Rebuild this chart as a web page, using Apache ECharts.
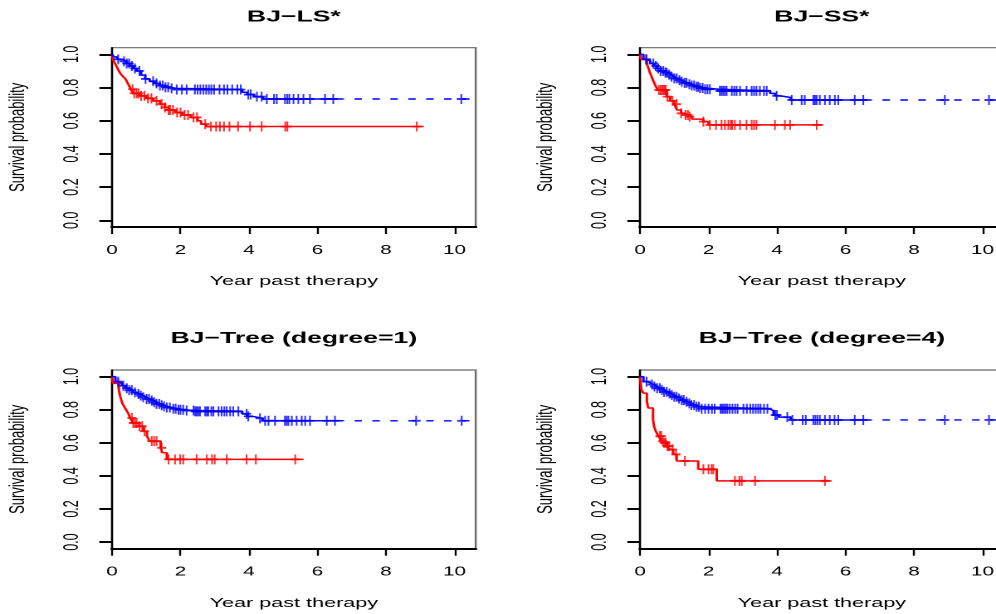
<!DOCTYPE html>
<html><head><meta charset="utf-8">
<script src="https://cdn.jsdelivr.net/npm/echarts@6/dist/echarts.min.js"></script>
<style>
html,body{margin:0;padding:0;overflow:hidden;background:#fff;width:996px;height:614px}
#chart{width:610px;height:614px;transform:scaleX(1.66);transform-origin:0 0;}
</style>
</head><body><div id="chart"></div>
<script>
// ---------- data ----------
const panelTitles = ['BJ\u2212LS*', 'BJ\u2212SS*', 'BJ\u2212Tree (degree=1)', 'BJ\u2212Tree (degree=4)'];
const xTicks = [0, 2, 4, 6, 8, 10];
const yTicks = [0, 0.2, 0.4, 0.6, 0.8, 1.0];
const xName = 'Year past therapy';
const yName = 'Survival probability';

// BJ-LS*
const lsBlueT = [0, 0.05, 0.15, 0.3, 0.42, 0.52, 0.62, 0.72, 0.85, 0.97, 1.1, 1.25, 1.4, 1.55, 1.7, 1.85, 3.8, 3.95, 4.15, 4.4];
const lsBlueS = [1.0, 0.985, 0.97, 0.958, 0.945, 0.93, 0.915, 0.9, 0.875, 0.852, 0.838, 0.825, 0.812, 0.802, 0.795, 0.788, 0.772, 0.758, 0.745, 0.731];
const lsBlueC = [0.18, 0.35, 0.43, 0.5, 0.58, 0.67, 0.8, 0.98, 1.2, 1.3, 1.4, 1.48, 1.56, 1.64, 1.74, 1.89, 2.04, 2.18, 2.42, 2.5, 2.58, 2.67, 2.75, 2.83, 2.9, 2.98, 3.14, 3.27, 3.37, 3.51, 3.66, 3.76, 3.98, 4.05, 4.23, 4.37, 4.52, 4.73, 4.81, 5.05, 5.12, 5.18, 5.3, 5.44, 5.59, 5.78, 6.22, 6.46, 10.2];
const lsRedT = [0, 0.02, 0.05, 0.1, 0.15, 0.2, 0.26, 0.33, 0.4, 0.45, 0.5, 0.55, 0.62, 0.8, 1.0, 1.2, 1.4, 1.55, 1.65, 1.85, 2.05, 2.3, 2.5, 2.6, 2.75];
const lsRedS = [1.0, 0.98, 0.96, 0.94, 0.92, 0.9, 0.88, 0.865, 0.85, 0.83, 0.81, 0.79, 0.765, 0.75, 0.735, 0.72, 0.70, 0.68, 0.665, 0.65, 0.635, 0.62, 0.6, 0.58, 0.565];
const lsRedC = [0.6, 0.65, 0.72, 0.78, 0.85, 0.95, 1.05, 1.15, 1.3, 1.45, 1.55, 1.65, 1.7, 1.78, 1.9, 2.0, 2.12, 2.22, 2.38, 2.48, 2.72, 2.89, 3.04, 3.15, 3.27, 3.43, 3.68, 4.03, 4.37, 5.06, 5.12, 8.9];
const lsRedEnd = 9.1;

// BJ-SS*
const ssBlueT = [0, 0.1, 0.2, 0.3, 0.4, 0.5, 0.6, 0.7, 0.8, 0.9, 1.0, 1.1, 1.2, 1.3, 1.4, 1.5, 1.6, 1.75, 1.9, 2.3, 3.8, 3.95, 4.1, 4.4];
const ssBlueS = [1.0, 0.97, 0.96, 0.945, 0.93, 0.915, 0.9, 0.89, 0.878, 0.866, 0.855, 0.845, 0.836, 0.828, 0.82, 0.812, 0.805, 0.797, 0.79, 0.78, 0.765, 0.75, 0.74, 0.725];
const ssBlueC = [0.19, 0.39, 0.46, 0.53, 0.6, 0.68, 0.74, 0.78, 0.85, 0.92, 1.0, 1.07, 1.15, 1.22, 1.3, 1.36, 1.44, 1.51, 1.58, 1.65, 1.7, 1.75, 1.83, 1.9, 1.97, 2.04, 2.33, 2.38, 2.43, 2.48, 2.53, 2.68, 2.75, 2.82, 2.92, 3.11, 3.26, 3.33, 3.40, 3.50, 3.62, 3.70, 3.99, 4.43, 4.72, 4.81, 5.06, 5.11, 5.16, 5.25, 5.40, 5.54, 5.69, 5.79, 6.27, 6.52, 8.90, 10.19];
const ssRedT = [0, 0.03, 0.2, 0.24, 0.28, 0.32, 0.36, 0.4, 0.44, 0.48, 0.52, 0.78, 0.88, 1.0, 1.08, 1.2, 1.3, 1.42, 1.52, 1.85, 2.0];
const ssRedS = [1.0, 0.97, 0.945, 0.92, 0.895, 0.875, 0.855, 0.835, 0.815, 0.8, 0.785, 0.745, 0.72, 0.70, 0.665, 0.645, 0.635, 0.625, 0.61, 0.595, 0.575];
const ssRedC = [0.17, 0.55, 0.6, 0.64, 0.68, 0.72, 0.75, 0.8, 0.95, 1.07, 1.2, 1.33, 1.4, 1.45, 1.85, 2.04, 2.22, 2.38, 2.48, 2.58, 2.65, 2.69, 2.77, 2.92, 3.11, 3.26, 3.33, 3.40, 3.94, 4.23, 4.38, 5.16];
const ssRedEnd = 5.35;

// BJ-Tree (degree=1)
const t1BlueT = [0, 0.1, 0.2, 0.3, 0.4, 0.5, 0.6, 0.7, 0.8, 0.9, 1.0, 1.1, 1.2, 1.3, 1.4, 1.5, 1.6, 1.75, 1.9, 2.1, 2.4, 3.8, 3.95, 4.1, 4.4];
const t1BlueS = [1.0, 0.97, 0.96, 0.945, 0.93, 0.918, 0.905, 0.895, 0.885, 0.875, 0.865, 0.855, 0.845, 0.835, 0.827, 0.82, 0.813, 0.806, 0.8, 0.795, 0.79, 0.775, 0.76, 0.748, 0.733];
const t1BlueC = [0.18, 0.33, 0.43, 0.5, 0.58, 0.67, 0.77, 0.84, 0.91, 1.01, 1.08, 1.16, 1.23, 1.3, 1.38, 1.45, 1.52, 1.6, 1.69, 1.79, 1.86, 1.94, 2.0, 2.08, 2.18, 2.38, 2.43, 2.47, 2.52, 2.57, 2.72, 2.77, 2.81, 2.9, 2.96, 3.11, 3.2, 3.28, 3.35, 3.45, 3.54, 3.69, 3.93, 3.98, 4.32, 4.47, 4.57, 4.76, 5.05, 5.1, 5.15, 5.25, 5.39, 5.54, 5.64, 5.78, 6.27, 6.51, 8.88, 10.21];
const t1RedT = [0, 0.03, 0.2, 0.24, 0.3, 0.38, 0.47, 0.53, 0.62, 0.8, 0.92, 1.02, 1.1, 1.42, 1.47, 1.6];
const t1RedS = [1.0, 0.96, 0.92, 0.88, 0.84, 0.81, 0.78, 0.75, 0.72, 0.70, 0.67, 0.64, 0.61, 0.57, 0.54, 0.50];
const t1RedC = [0.18, 0.58, 0.62, 0.67, 0.72, 0.8, 0.88, 0.95, 1.16, 1.23, 1.3, 1.45, 1.65, 1.84, 1.99, 2.08, 2.47, 2.77, 2.92, 3.0, 3.35, 3.93, 4.2, 5.35];
const t1RedEnd = 5.59;

// BJ-Tree (degree=4)
const t4BlueT = [0, 0.1, 0.2, 0.3, 0.4, 0.5, 0.6, 0.7, 0.8, 0.9, 1.0, 1.1, 1.2, 1.3, 1.4, 1.5, 1.6, 1.75, 3.75, 3.9, 4.05, 4.4];
const t4BlueS = [1.0, 0.97, 0.962, 0.952, 0.94, 0.93, 0.92, 0.908, 0.898, 0.888, 0.878, 0.868, 0.858, 0.848, 0.838, 0.828, 0.818, 0.806, 0.795, 0.768, 0.755, 0.738];
const t4BlueC = [0.19, 0.35, 0.42, 0.5, 0.58, 0.64, 0.7, 0.78, 0.86, 0.93, 1.0, 1.07, 1.14, 1.22, 1.28, 1.36, 1.44, 1.5, 1.58, 1.65, 1.72, 1.8, 1.9, 2.0, 2.1, 2.18, 2.35, 2.4, 2.45, 2.5, 2.55, 2.62, 2.7, 2.78, 2.85, 3.02, 3.12, 3.22, 3.3, 3.38, 3.45, 3.52, 3.62, 3.72, 3.95, 4.0, 4.3, 4.45, 4.75, 4.84, 5.06, 5.12, 5.18, 5.25, 5.4, 5.54, 5.68, 5.79, 6.27, 6.52, 8.9, 10.19];
const t4RedT = [0, 0.02, 0.04, 0.1, 0.2, 0.24, 0.38, 0.41, 0.46, 0.54, 0.63, 0.68, 0.78, 0.87, 0.97, 1.07, 1.7, 2.24];
const t4RedS = [1.0, 0.96, 0.92, 0.90, 0.85, 0.81, 0.74, 0.70, 0.67, 0.64, 0.61, 0.60, 0.58, 0.56, 0.53, 0.49, 0.44, 0.37];
const t4RedC = [0.58, 0.62, 0.66, 0.7, 0.75, 0.8, 0.85, 0.95, 1.05, 1.31, 1.85, 2.0, 2.09, 2.14, 2.77, 2.9, 2.97, 3.36, 5.4];
const t4RedEnd = 5.59;

const blueSolidEnd = 6.75;
const blueDashEnd = 10.45;

// ---------- layout ----------
const K = 1.66; // horizontal stretch of the whole figure
const BLUE = '#0000ff', RED = '#ff0000';
const FONT = 'Liberation Sans, Arial, Helvetica, sans-serif';
const gridW = (475.7 - 112) / K;
const lefts = [112 / K, 640 / K, 112 / K, 640 / K];
const tops = [47.7, 47.7, 370, 370];
const heights = [179.3, 179.3, 178.7, 178.7];
const titleTops = [9, 9, 330.5, 330.5];

const panels = [
  [lsBlueT, lsBlueS, lsBlueC, lsRedT, lsRedS, lsRedC, lsRedEnd],
  [ssBlueT, ssBlueS, ssBlueC, ssRedT, ssRedS, ssRedC, ssRedEnd],
  [t1BlueT, t1BlueS, t1BlueC, t1RedT, t1RedS, t1RedC, t1RedEnd],
  [t4BlueT, t4BlueS, t4BlueC, t4RedT, t4RedS, t4RedC, t4RedEnd]
];

function stepData(ts, ss, tEnd) {
  const d = ts.map((t, i) => [t, ss[i]]);
  d.push([tEnd, ss[ss.length - 1]]);
  return d;
}
function valueAt(ts, ss, t) {
  let v = ss[0];
  for (let i = 0; i < ts.length; i++) if (ts[i] <= t) v = ss[i];
  return v;
}
const PLUS = 'path://M5,0V10M0,5H10';
const PLUS_SIZE = [5.4, 10];

const grid = [], xAxis = [], yAxis = [], series = [], title = [];
panels.forEach((p, i) => {
  const [bT, bS, bC, rT, rS, rC, rEnd] = p;
  grid.push({ left: lefts[i], top: tops[i], width: gridW, height: heights[i], show: true,
    borderColor: '#6a6a6a', borderWidth: 1.2, backgroundColor: 'transparent', containLabel: false });
  title.push({ text: panelTitles[i], left: lefts[i] + gridW / 2, top: titleTops[i], textAlign: 'center', padding: 0,
    textStyle: { fontFamily: FONT, fontSize: 16, fontWeight: 'bold', color: '#000' } });
  xAxis.push({ gridIndex: i, type: 'value', min: 0, max: 10.62,
    name: xName, nameLocation: 'middle', nameGap: 48,
    nameTextStyle: { fontFamily: FONT, fontSize: 13, color: '#000' },
    axisLine: { show: true, onZero: false, lineStyle: { color: '#000', width: 2 } },
    axisTick: { show: true, length: 7, customValues: xTicks, lineStyle: { color: '#000', width: 1.2 } },
    axisLabel: { customValues: xTicks, margin: 17, fontFamily: FONT, fontSize: 12.5, color: '#000' },
    splitLine: { show: false } });
  yAxis.push({ gridIndex: i, type: 'value', min: -0.04, max: 1.04,
    name: yName, nameLocation: 'middle', nameGap: 50,
    nameTextStyle: { fontFamily: FONT, fontSize: 13, color: '#000' },
    axisLine: { show: true, onZero: false, lineStyle: { color: '#000', width: 1.2 } },
    axisTick: { show: true, length: 7.6, customValues: yTicks, lineStyle: { color: '#000', width: 2 } },
    axisLabel: { customValues: yTicks, rotate: 90, margin: 17.5, fontFamily: FONT, fontSize: 12.5, color: '#000',
      formatter: v => v.toFixed(1) },
    splitLine: { show: false } });

  const lastB = bS[bS.length - 1];
  series.push({ type: 'line', xAxisIndex: i, yAxisIndex: i, step: 'end', symbol: 'none', silent: true,
    data: stepData(rT, rS, rEnd), lineStyle: { color: RED, width: 1.5 }, z: 2 });
  series.push({ type: 'scatter', xAxisIndex: i, yAxisIndex: i, symbol: PLUS, symbolSize: PLUS_SIZE, silent: true,
    data: rC.map(t => [t, valueAt(rT, rS, t)]),
    itemStyle: { color: RED, borderColor: RED, borderWidth: 1.4 }, z: 3 });
  series.push({ type: 'line', xAxisIndex: i, yAxisIndex: i, step: 'end', symbol: 'none', silent: true,
    data: stepData(bT, bS, blueSolidEnd), lineStyle: { color: BLUE, width: 1.5 }, z: 4 });
  series.push({ type: 'line', xAxisIndex: i, yAxisIndex: i, symbol: 'none', silent: true,
    data: [[blueSolidEnd, lastB], [blueDashEnd, lastB]],
    lineStyle: { color: BLUE, width: 1.4, type: [4.5, 6.3], dashOffset: 4 }, z: 4 });
  series.push({ type: 'scatter', xAxisIndex: i, yAxisIndex: i, symbol: PLUS, symbolSize: PLUS_SIZE, silent: true,
    data: bC.map(t => [t, valueAt(bT, bS, t)]),
    itemStyle: { color: BLUE, borderColor: BLUE, borderWidth: 1.4 }, z: 5 });
});

const chart = echarts.init(document.getElementById('chart'), null, { renderer: 'canvas', devicePixelRatio: 2 });
chart.setOption({ animation: false, backgroundColor: '#fff', title, grid, xAxis, yAxis, series });
</script></body></html>
